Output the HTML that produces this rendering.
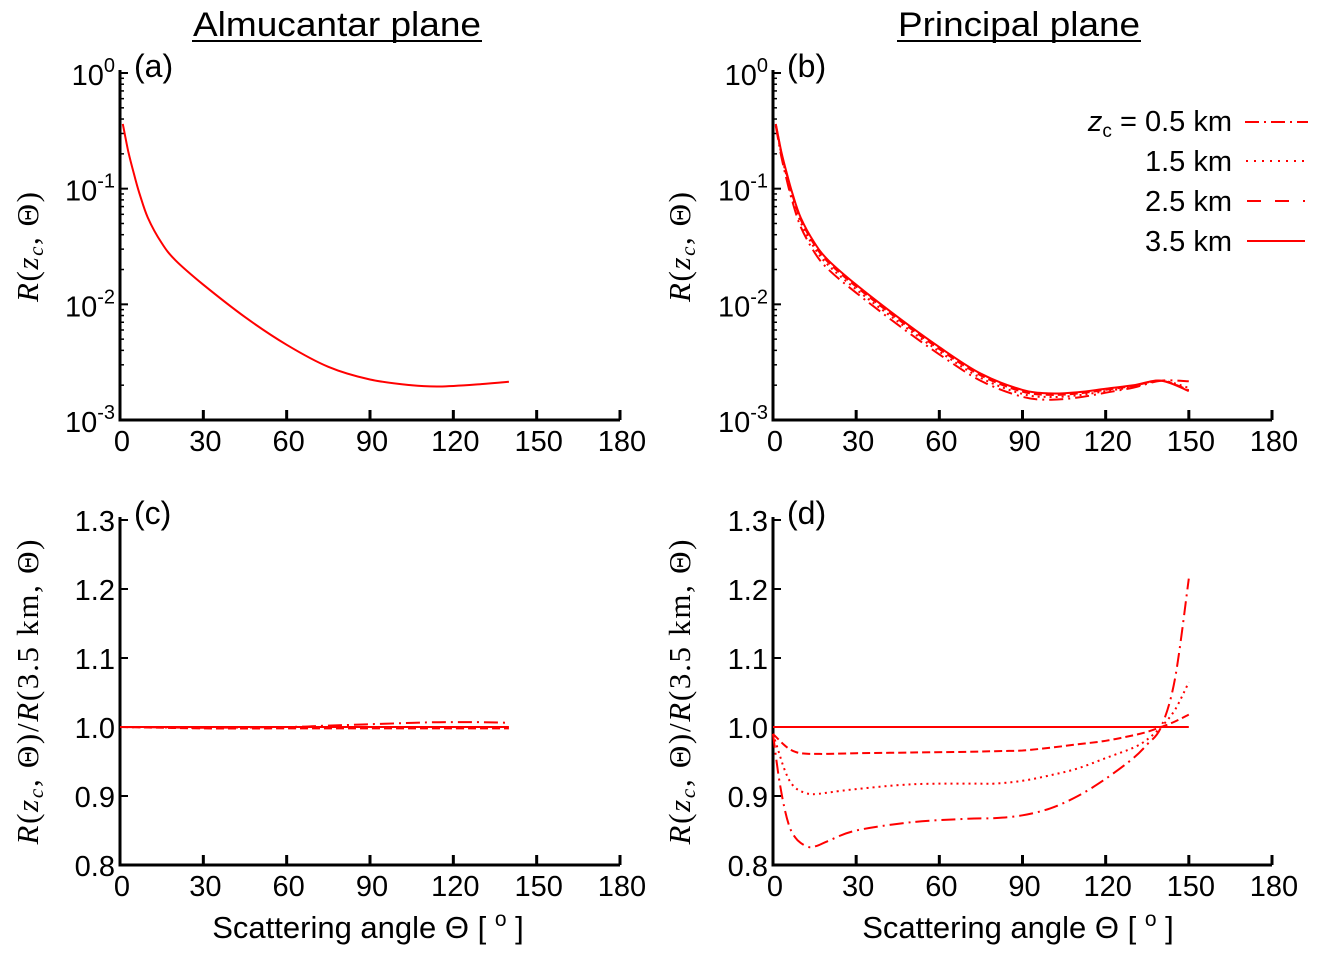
<!DOCTYPE html>
<html><head><meta charset="utf-8"><style>
body{margin:0;background:#fff;width:1319px;height:959px;overflow:hidden}
svg{display:block}
text{font-family:"Liberation Sans",sans-serif;fill:#000}
.tick{font-size:29px}
.serif{font-family:"Liberation Serif",serif}
</style></head><body>
<svg id="fig" width="1319" height="959" viewBox="0 0 1319 959" xmlns="http://www.w3.org/2000/svg">
<text x="337" y="36" font-size="34" text-anchor="middle" textLength="288" lengthAdjust="spacingAndGlyphs">Almucantar plane</text>
<line x1="192" y1="41" x2="482" y2="41" stroke="#000" stroke-width="2"/>
<text x="1019" y="36" font-size="34" text-anchor="middle" textLength="242" lengthAdjust="spacingAndGlyphs">Principal plane</text>
<line x1="897" y1="41" x2="1141" y2="41" stroke="#000" stroke-width="2"/>
<g id="legend">
<text x="1232" y="131" font-size="29" text-anchor="end"><tspan font-style="italic">z</tspan><tspan font-size="19" dy="6">c</tspan><tspan dy="-6"> = 0.5 km</tspan></text>
<text x="1232" y="171" font-size="29" text-anchor="end">1.5 km</text>
<text x="1232" y="211" font-size="29" text-anchor="end">2.5 km</text>
<text x="1232" y="251" font-size="29" text-anchor="end">3.5 km</text>
<line x1="1245" y1="122" x2="1308" y2="122" stroke="red" stroke-width="2" stroke-dasharray="14,5,2,5"/>
<line x1="1246" y1="161" x2="1306" y2="161" stroke="red" stroke-width="2" stroke-dasharray="2,6"/>
<line x1="1247" y1="201" x2="1305" y2="201" stroke="red" stroke-width="2" stroke-dasharray="14,14"/>
<line x1="1247" y1="241" x2="1305" y2="241" stroke="red" stroke-width="2"/>
</g>
</svg>
<script>
// ---- data ----
const thetaA = [1,3,5,7,10,15,20,30,45,60,75,90,105,115,130,140];
const logRA = [-0.44,-0.68,-0.87,-1.04,-1.25,-1.47,-1.62,-1.83,-2.11,-2.35,-2.54,-2.65,-2.70,-2.71,-2.69,-2.67];
const thetaB = [1,3,5,7,10,15,20,30,45,60,75,90,100,110,120,130,140,150];
const logRB35 = [-0.44,-0.68,-0.87,-1.04,-1.25,-1.47,-1.62,-1.83,-2.11,-2.37,-2.60,-2.74,-2.77,-2.76,-2.73,-2.70,-2.66,-2.75];
const thetaC = [0,30,60,75,90,105,115,130,140];
const ratioC05 = [1.0,0.999,1.0,1.002,1.004,1.006,1.007,1.007,1.006];
const ratioC15 = [1.0,0.999,0.999,0.999,0.999,0.999,0.999,0.999,0.999];
const ratioC25 = [1.0,0.998,0.998,0.998,0.998,0.998,0.998,0.998,0.998];
const ratioC35 = [1,1,1,1,1,1,1,1,1];
const thetaD = [0,2,4,6,8,10,13,16,20,30,50,70,80,90,100,110,120,130,135,140,145,150];
const ratioD05 = [0.99,0.93,0.885,0.855,0.84,0.832,0.826,0.828,0.835,0.85,0.862,0.867,0.868,0.872,0.882,0.90,0.925,0.955,0.975,1.0,1.07,1.215];
const ratioD15 = [0.99,0.965,0.94,0.922,0.912,0.907,0.903,0.903,0.905,0.91,0.917,0.918,0.918,0.922,0.93,0.94,0.955,0.97,0.982,1.0,1.025,1.065];
const ratioD25 = [0.99,0.982,0.974,0.968,0.964,0.962,0.961,0.961,0.961,0.962,0.963,0.964,0.965,0.966,0.97,0.975,0.98,0.988,0.993,1.0,1.008,1.018];
const ratioD35 = [1,1,1,1,1,1,1,1,1,1,1,1,1,1,1,1,1,1,1,1,1,1];
const xTicks = [0,30,60,90,120,150,180];
const logTicks = [0,-1,-2,-3];
const linTicks = ["0.8","0.9","1.0","1.1","1.2","1.3"];
// ---- drawing ----
const svg = document.getElementById('fig');
const NS = 'http://www.w3.org/2000/svg';
const styles = {s05:'14,5,2,5', s15:'2,4', s25:'8,4', s35:''};
function mk(tag, attrs){const e=document.createElementNS(NS,tag);for(const k in attrs)e.setAttribute(k,attrs[k]);svg.appendChild(e);return e;}
function smooth(pts){
  let d='M'+pts[0][0].toFixed(1)+','+pts[0][1].toFixed(1);
  for(let i=0;i<pts.length-1;i++){
    const p0=pts[Math.max(i-1,0)],p1=pts[i],p2=pts[i+1],p3=pts[Math.min(i+2,pts.length-1)];
    const c1=[p1[0]+(p2[0]-p0[0])/6,p1[1]+(p2[1]-p0[1])/6],c2=[p2[0]-(p3[0]-p1[0])/6,p2[1]-(p3[1]-p1[1])/6];
    d+=`C${c1[0].toFixed(1)},${c1[1].toFixed(1)} ${c2[0].toFixed(1)},${c2[1].toFixed(1)} ${p2[0].toFixed(1)},${p2[1].toFixed(1)}`;
  }
  return d;
}
function panel(p){
  const X = v => p.x0 + (v/180)*(p.x1-p.x0);
  const Y = v => p.yb + (v-p.ymin)/(p.ymax-p.ymin)*(p.yt-p.yb);
  const ax = mk('path',{d:`M${p.x0},${p.yt-3}V${p.yb}H${p.x1}`,fill:'none',stroke:'#000','stroke-width':3});
  
  
  xTicks.forEach(t=>{
    mk('line',{x1:X(t),x2:X(t),y1:p.yb,y2:p.yb-10,stroke:'#000','stroke-width':3});
    const tx = mk('text',{x:X(t)+2,y:p.yb+31,'text-anchor':'middle',class:'tick'});
    tx.textContent = t;
    
    
  });
  if(p.log){
    logTicks.forEach(t=>{
      const y=Y(t);
      mk('line',{x1:p.x0,x2:p.x0+8,y1:y,y2:y,stroke:'#000','stroke-width':2});
      const tx = mk('text',{x:p.x0-5,y:y+12,'text-anchor':'end',class:'tick'});
      tx.innerHTML = '10<tspan font-size="20" dy="-13">'+t+'</tspan>';
      
      
      if(t>-3) for(let m=2;m<10;m++){const ym=Y(t-1+Math.log10(m));mk('line',{x1:p.x0,x2:p.x0+4,y1:ym,y2:ym,stroke:'#000','stroke-width':1.5});}
    });
  } else {
    linTicks.forEach(s=>{
      const y=Y(parseFloat(s));
      mk('line',{x1:p.x0,x2:p.x0+8,y1:y,y2:y,stroke:'#000','stroke-width':2});
      const tx = mk('text',{x:p.x0-5,y:y+11,'text-anchor':'end',class:'tick'});
      tx.textContent = s;
      
      
    });
  }
  const lb = mk('text',{x:p.x0+14,y:p.yt+4,'font-size':32});
  lb.textContent = p.label;
  
  
  p.series.forEach(s=>{
    const d = smooth(s.th.map((t,i)=>[X(t),Y(s.v[i])]));
    const path = mk('path',{d:d,fill:'none',stroke:'red','stroke-width':2,'stroke-dasharray':styles[s.st],'stroke-linejoin':'round'});
    
    
  });
}
const rB = r => logRB35.map((v,i)=>v+Math.log10(r[i]));
const rBi = arr => thetaB.map(t=>{
  for(let i=1;i<thetaD.length;i++) if(t<=thetaD[i]){const f=(t-thetaD[i-1])/(thetaD[i]-thetaD[i-1]);return arr[i-1]+f*(arr[i]-arr[i-1]);}
  return arr[arr.length-1];});
panel({name:'panel-a',label:'(a)',x0:120,x1:620,yt:73,yb:420,ymin:-3,ymax:0,log:true,
  series:[{th:thetaA,v:logRA,st:'s35'}]});
panel({name:'panel-b',label:'(b)',x0:773,x1:1272,yt:73,yb:420,ymin:-3,ymax:0,log:true,
  series:[{th:thetaB,v:rB(rBi(ratioD05)),st:'s05'},{th:thetaB,v:rB(rBi(ratioD15)),st:'s15'},{th:thetaB,v:rB(rBi(ratioD25)),st:'s25'},{th:thetaB,v:logRB35,st:'s35'}]});
panel({name:'panel-c',label:'(c)',x0:120,x1:620,yt:520,yb:865,ymin:0.8,ymax:1.3,log:false,
  series:[{th:thetaC,v:ratioC05,st:'s05'},{th:thetaC,v:ratioC15,st:'s15'},{th:thetaC,v:ratioC25,st:'s25'},{th:thetaC,v:ratioC35,st:'s35'}]});
panel({name:'panel-d',label:'(d)',x0:773,x1:1272,yt:520,yb:865,ymin:0.8,ymax:1.3,log:false,
  series:[{th:thetaD,v:ratioD05,st:'s05'},{th:thetaD,v:ratioD15,st:'s15'},{th:thetaD,v:ratioD25,st:'s25'},{th:thetaD,v:ratioD35,st:'s35'}]});
function ytitle(x,y,html,len,name){const t=mk('text',{x:0,y:0,transform:`translate(${x},${y}) rotate(-90)`,'text-anchor':'middle','font-size':31,class:'serif',textLength:len,lengthAdjust:'spacing'});t.innerHTML=html;
  
  }
const rz = '<tspan font-style="italic">R</tspan>(<tspan font-style="italic">z</tspan><tspan font-style="italic" font-size="21" dy="5">c</tspan><tspan dy="-5">, Θ)</tspan>';
ytitle(38,247,rz,110,'y-axis-title-a');
ytitle(690,247,rz,110,'y-axis-title-b');
const rr = rz+'/<tspan font-style="italic">R</tspan>(3.5 km, Θ)';
ytitle(38,692,rr,305,'y-axis-title-c');
ytitle(690,692,rr,305,'y-axis-title-d');
function xtitle(x,name){const t=mk('text',{x:x,y:938,'text-anchor':'middle','font-size':31});t.innerHTML='Scattering angle Θ [ <tspan font-size="21" dy="-12">o</tspan><tspan dy="12"> ]</tspan>';
  
  }
xtitle(368,'x-axis-title-c');
xtitle(1018,'x-axis-title-d');
</script>
</body></html>
